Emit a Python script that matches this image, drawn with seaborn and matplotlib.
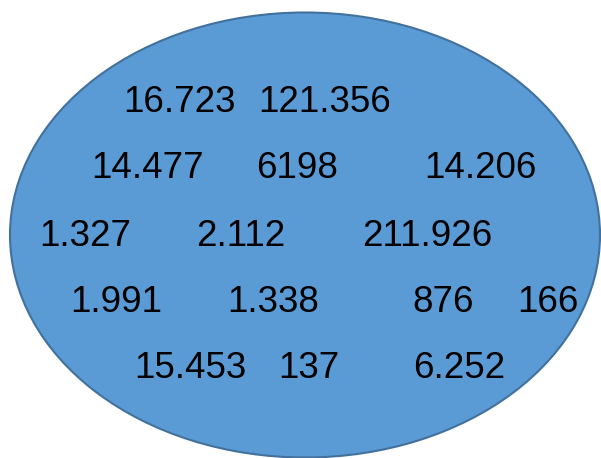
import seaborn as sns
import matplotlib.pyplot as plt
from matplotlib.patches import Ellipse

# numbers shown inside the ellipse, row by row
row1 = ['16.723', '121.356']
row2 = ['14.477', '6198', '14.206']
row3 = ['1.327', '2.112', '211.926']
row4 = ['1.991', '1.338', '876', '166']
row5 = ['15.453', '137', '6.252']

rows = [row1, row2, row3, row4, row5]
# horizontal centres for each label (pixels), vertical centre per row
x_pos = [[180, 325],
         [148, 297, 480],
         [85, 241, 427],
         [116, 273, 443, 548],
         [190, 309, 459]]
y_pos = [102, 169, 236, 302, 369]

sns.set_style('white')
plt.rcParams['font.family'] = ['Liberation Sans', 'DejaVu Sans']

fig = plt.figure(figsize=(6.01, 4.58), dpi=100)
ax = fig.add_axes([0, 0, 1, 1])
ax.set_xlim(0, 601)
ax.set_ylim(458, 0)
ax.axis('off')

ax.add_patch(Ellipse((305, 235), 590, 445, facecolor='#5B9BD5',
                     edgecolor='#41719C', linewidth=1.5))

for labels, xs, y in zip(rows, x_pos, y_pos):
    for lab, x in zip(labels, xs):
        ax.text(x, y, lab, ha='center', va='center', fontsize=26.5, color='black')

plt.savefig('out.png', dpi=100)
